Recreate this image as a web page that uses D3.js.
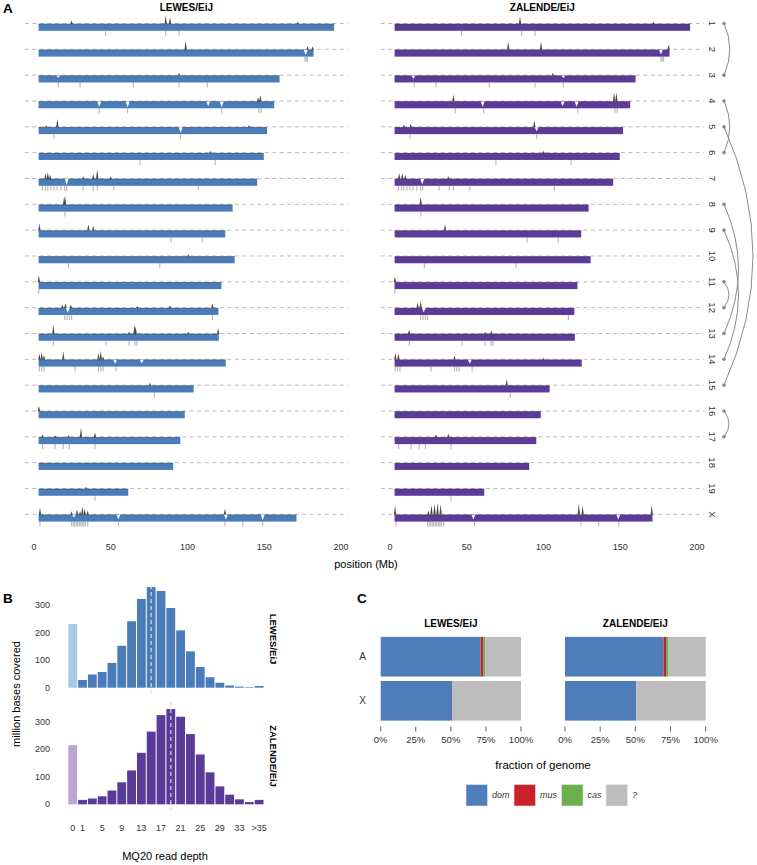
<!DOCTYPE html>
<html lang="en">
<head>
<meta charset="utf-8">
<title>Ancestry and coverage</title>
<script src="https://d3js.org/d3.v7.min.js"></script>
<style>
  body { margin: 0; background: #fff; }
  svg { font-family: "Liberation Sans", Arial, Helvetica, sans-serif; }
</style>
</head>
<body>
<svg id="fig" width="757" height="865"></svg>
<script>
// ---- data: panel A ----
var chroms = ["1","2","3","4","5","6","7","8","9","10","11","12","13","14","15","16","17","18","19","X"];
var chromLen = [195.5, 182.1, 160.0, 156.5, 151.8, 149.7, 145.4, 129.4, 124.6, 130.7, 122.1, 120.1, 120.4, 124.9, 104.0, 98.2, 95.3, 90.7, 61.4, 171.0];
var chromStart = 3;
var strains = ["LEWES/EiJ", "ZALENDE/EiJ"];
var posTicks = [0, 50, 100, 150, 200];

// [chrom, position (Mb), relative coverage]  (>1 spike, <1 dip)
var lewesPeaks = [
  ["1",24.5,1.5],["1",85.8,2.2],["1",88.6,2.0],["1",171.8,1.3],
  ["2",98.8,2.2],["2",177,0.2],["2",178.2,1.5],["2",181.5,1.5],
  ["3",94.5,1.4],["3",15.8,0.7],
  ["4",42.5,0.2],["4",61,0.1],["4",113.5,0.3],["4",122.3,0.1],["4",146,1.6],["4",147.5,1.9],
  ["5",8,1.3],["5",15.2,2.2],["5",95.5,0.2],["5",140,1.3],
  ["6",115,1.3],
  ["7",7.5,1.8],["7",9,2.0],["7",10.5,1.6],["7",21.3,0.1],["7",32,1.4],["7",38.6,1.7],["7",41.2,2.4],["7",50,1.3],
  ["8",19.6,2.1],["8",20.2,2.3],
  ["9",3.5,2.0],["9",35.4,1.9],["9",38.6,1.7],
  ["10",100.5,1.3],
  ["11",3.2,2.0],
  ["12",18.5,1.5],["12",20.5,1.7],["12",22,0.3],["12",24,1.5],["12",67.3,1.3],["12",88.6,1.4],["12",116.2,1.7],
  ["13",12.6,2.3],["13",62,1.3],["13",65.5,2.3],["13",66.2,2.1],["13",100.5,1.3],["13",120,1.8],
  ["14",3.5,1.9],["14",5,2.1],["14",6.5,1.7],["14",19.1,2.2],["14",42,2.0],["14",43.5,2.3],["14",45,1.5],["14",52.8,0.4],["14",70.2,0.5],
  ["15",75.6,1.4],
  ["16",3.2,1.8],
  ["17",5.6,1.4],["17",13.7,1.3],["17",22.4,1.3],["17",30.6,2.4],["17",39.7,1.7],
  ["19",33.9,1.3],
  ["X",3.9,2.0],["X",24.5,1.5],["X",26,0.6],["X",28,1.8],["X",30,1.5],["X",31.5,2.2],["X",33,1.9],["X",35,1.6],
  ["X",55,0.3],["X",124.4,1.9],["X",125,0.3],["X",149,0.2]
];
var zalendePeaks = [
  ["1",84.7,2.1],["1",171.6,1.3],
  ["2",77,2.2],["2",98.4,2.2],["2",176.5,0.3],["2",181.5,1.8],
  ["3",15.2,0.5],["3",106,1.4],["3",112.9,0.6],
  ["4",41.3,2.0],["4",60.4,0.2],["4",112.5,0.3],["4",121.6,0.2],["4",146,2.3],["4",147.5,2.3],
  ["5",9,1.4],["5",13.5,1.5],["5",94,2.0],["5",95.5,0.4],
  ["6",100,1.3],
  ["7",6,1.8],["7",8,1.9],["7",10,1.6],["7",21,0.2],["7",38,1.4],
  ["8",20,2.2],
  ["9",35.8,1.9],
  ["11",3.2,1.8],
  ["12",18,1.8],["12",20,2.0],["12",22,0.4],
  ["13",12.4,1.6],["13",62,1.3],["13",66,1.5],
  ["14",3.5,2.0],["14",5.5,1.9],["14",42,1.6],["14",52,0.4],["14",100,1.3],
  ["15",76,1.9],
  ["17",30,1.4],["17",38,1.5],
  ["X",3.3,2.3],["X",25,1.6],["X",27,2.4],["X",29,2.6],["X",31,2.7],["X",33,2.5],["X",54.3,0.3],
  ["X",123,2.6],["X",125.5,2.3],["X",148.7,0.3],["X",170.5,2.4]
];
// low-coverage sites shown under the tracks: [chrom, position (Mb)]
var gapSites = [
  ["1",46.7],["1",85.8],["1",94.5],
  ["2",176.5],["2",177.3],["2",178.1],
  ["3",15.8],["3",30],["3",64.7],["3",94.5],["3",112.9],
  ["4",42.5],["4",61],["4",122.3],["4",146.5],["4",148],
  ["5",13],["5",95.5],
  ["6",69],["6",118],
  ["7",5.5],["7",7.5],["7",9],["7",11],["7",13],["7",15],["7",17.5],["7",20],["7",21.3],["7",32],["7",38.6],["7",41.2],["7",52],["7",107],
  ["8",20.2],
  ["9",89.3],["9",109.6],
  ["10",22.4],["10",82],
  ["11",3.2],
  ["12",20],["12",21.5],["12",23],["12",24.5],["12",116.2],
  ["13",12.6],["13",47],["13",62],["13",65.8],["13",67],
  ["14",3.5],["14",5],["14",6.5],["14",26.7],["14",42],["14",43.5],["14",45],["14",53.5],
  ["15",78.4],
  ["17",5.6],["17",13.7],["17",19],["17",23],["17",39.7],
  ["19",39.7],
  ["X",3.9],["X",24.5],["X",25.5],["X",26.5],["X",27.5],["X",28.5],["X",29.5],["X",30.5],["X",31.5],["X",32.5],["X",33.5],["X",35],
  ["X",55],["X",124.4],["X",136],["X",149]
];
var arcPairs = [["1","3"],["4","6"],["5","15"],["8","13"],["9","14"],["11","12"],["16","17"]];

// ---- data: panel B ----
var depthBins = ["0","1","3","5","7","9","11","13","15","17","19","21","23","25","27","29","31","33","35",">35"];
var depthLabels = ["0","1","","5","","9","","13","","17","","21","","25","","29","","33","",">35"];
var lewesDepth = [231, 28, 48, 57, 90, 152, 241, 322, 365, 351, 289, 208, 132, 75, 38, 18, 8, 4, 2, 6];
var zalendeDepth = [215, 16, 21, 29, 50, 80, 123, 187, 264, 324, 346, 318, 255, 181, 116, 65, 35, 18, 8, 16];
var meanDepth = ["15", "19"];
var depthTicks = [0, 100, 200, 300];

// ---- data: panel C ----
var ancestry = ["dom", "mus", "cas", "?"];
var chromClass = ["A", "X"];
var lewesFrac = { A: [71.2, 1.8, 1.6, 25.4], X: [51.0, 0.15, 0.1, 48.75] };
var zalendeFrac = { A: [70.0, 1.8, 1.8, 26.4], X: [50.5, 0.15, 0.1, 49.25] };
var fracTicks = [0, 25, 50, 75, 100];

// ---- styles ----
var strainCol = ["#4a7cb9", "#5b3a98"];
var strainLight = ["#a9c9e5", "#baa7d3"];
var ancCol = ["#4f7dba", "#c9202a", "#6bb04d", "#bdbdbd"];

var svg = d3.select("#fig");

// panel letters
[["A", 3, 13], ["B", 3, 603], ["C", 357, 603]].forEach(function(p) {
  svg.append("text").attr("x", p[1]).attr("y", p[2]).attr("font-size", 13.5)
    .attr("font-weight", "bold").text(p[0]);
});

// ================= Panel A =================
var rowY = d3.scalePoint().domain(chroms).range([23.5, 514.3]);
var cov = d3.scaleLinear().domain([0, 1]).range([7.3, 0.4]);
var panelX0 = [34, 390];
var peakSets = [lewesPeaks, zalendePeaks];

strains.forEach(function(s, k) {
  var x = d3.scaleLinear().domain([0, 200]).range([panelX0[k], panelX0[k] + 307]);
  var g = svg.append("g");

  g.append("text").attr("x", (x(-6) + x(204.5)) / 2).attr("y", 11)
    .attr("text-anchor", "middle").attr("font-size", 10).attr("font-weight", "bold").text(s);

  // dashed guides
  g.selectAll(".guide").data(chroms).enter().append("line")
    .attr("x1", x(-6)).attr("x2", x(204.5))
    .attr("y1", function(c) { return rowY(c); }).attr("y2", function(c) { return rowY(c); })
    .attr("stroke", "#a8a8a8").attr("stroke-width", 0.8).attr("stroke-dasharray", "4,3.5");

  // gap ticks under the tracks
  g.selectAll(".gap").data(gapSites).enter().append("line")
    .attr("x1", function(d) { return x(d[1]); }).attr("x2", function(d) { return x(d[1]); })
    .attr("y1", function(d) { return rowY(d[0]) + cov(0); })
    .attr("y2", function(d) { return rowY(d[0]) + cov(0) + 5; })
    .attr("stroke", "#b5b5b5").attr("stroke-width", 1.1);

  // chromosome tracks
  g.selectAll(".trk").data(chroms).enter().append("rect")
    .attr("x", x(chromStart))
    .attr("width", function(c, i) { return x(chromLen[i]) - x(chromStart); })
    .attr("y", function(c) { return rowY(c) + cov(1); })
    .attr("height", cov(0) - cov(1))
    .attr("fill", strainCol[k]);

  // coverage fringe along the top
  g.selectAll(".fr").data(chroms).enter().append("line")
    .attr("x1", x(chromStart))
    .attr("x2", function(c, i) { return x(chromLen[i]); })
    .attr("y1", function(c) { return rowY(c) + cov(1) + 0.2; })
    .attr("y2", function(c) { return rowY(c) + cov(1) + 0.2; })
    .attr("stroke", "#3d3d3d").attr("stroke-opacity", 0.45).attr("stroke-width", 1);

  // spikes and dips
  g.selectAll(".pk").data(peakSets[k]).enter().append("path")
    .attr("d", function(d) {
      var px = x(d[1]), y0 = rowY(d[0]) + cov(1), y1 = rowY(d[0]) + cov(d[2]);
      var w = d[2] > 1 ? 1.2 : 1.9;
      return "M" + (px - w) + "," + y0 + "L" + px + "," + y1 + "L" + (px + w) + "," + y0 + "Z";
    })
    .attr("fill", function(d) { return d[2] > 1 ? "#4a4a4a" : "#ffffff"; });

  // x axis labels
  g.selectAll(".xt").data(posTicks).enter().append("text")
    .attr("x", function(d) { return x(d); }).attr("y", 549.5)
    .attr("text-anchor", "middle").attr("font-size", 9).attr("fill", "#333").text(function(d) { return d; });
});

svg.append("text").attr("x", 366).attr("y", 568).attr("text-anchor", "middle")
  .attr("font-size", 11).text("position (Mb)");

// chromosome labels, dots and arcs
var labX = 712, dotX = 724;
svg.selectAll(".cl").data(chroms).enter().append("text")
  .attr("transform", function(c) { return "translate(" + labX + "," + rowY(c) + ") rotate(90)"; })
  .attr("text-anchor", "middle").attr("dy", "0.35em").attr("font-size", 9.5).attr("fill", "#333")
  .text(function(c) { return c; });

svg.selectAll(".arc").data(arcPairs).enter().append("path")
  .attr("d", function(p) {
    var ya = rowY(p[0]), yb = rowY(p[1]);
    var span = chroms.indexOf(p[1]) - chroms.indexOf(p[0]);
    var b = Math.max(5, 2.9 * span);
    return "M" + dotX + "," + ya + "Q" + (dotX + 2 * b) + "," + ((ya + yb) / 2) + " " + dotX + "," + yb;
  })
  .attr("fill", "none").attr("stroke", "#8a8a8a").attr("stroke-width", 1);

var arcEnds = [];
arcPairs.forEach(function(p) { arcEnds.push(p[0], p[1]); });
svg.selectAll(".dot").data(arcEnds).enter().append("circle")
  .attr("cx", dotX).attr("cy", function(c) { return rowY(c); }).attr("r", 1.8).attr("fill", "#888");

// ================= Panel B =================
var bx = d3.scaleBand().domain(depthBins).range([67.8, 264]).paddingInner(0.1).paddingOuter(0.05);
var histRows = [
  { name: strains[0], vals: lewesDepth, y: d3.scaleLinear().domain([0, 300]).range([687.7, 605]), top: 585, bot: 693 },
  { name: strains[1], vals: zalendeDepth, y: d3.scaleLinear().domain([0, 300]).range([804.3, 721.7]), top: 702, bot: 810 }
];

histRows.forEach(function(h, k) {
  var g = svg.append("g");
  g.selectAll(".yt").data(depthTicks).enter().append("text")
    .attr("x", 50).attr("y", function(d) { return h.y(d); }).attr("dy", "0.35em")
    .attr("text-anchor", "end").attr("font-size", 9).attr("fill", "#333").text(function(d) { return d; });

  g.selectAll(".bar").data(h.vals).enter().append("rect")
    .attr("x", function(d, i) { return bx(depthBins[i]); })
    .attr("width", bx.bandwidth())
    .attr("y", function(d) { return h.y(d); })
    .attr("height", function(d) { return h.y(0) - h.y(d); })
    .attr("fill", function(d, i) { return i === 0 ? strainLight[k] : strainCol[k]; });

  var mx = bx(meanDepth[k]) + bx.bandwidth() / 2;
  g.append("line").attr("x1", mx).attr("x2", mx).attr("y1", h.top).attr("y2", h.bot)
    .attr("stroke", "#dcdcdc").attr("stroke-width", 1.2).attr("stroke-dasharray", "4,3");

  g.append("text")
    .attr("transform", "translate(273," + ((h.top + h.bot) / 2) + ") rotate(90)")
    .attr("text-anchor", "middle").attr("dy", "0.35em").attr("font-size", 9.5).attr("font-weight", "bold")
    .text(h.name);
});

svg.selectAll(".xl").data(depthLabels).enter().append("text")
  .attr("x", function(d, i) { return bx(depthBins[i]) + bx.bandwidth() / 2; })
  .attr("y", 828.3).attr("dy", "0.35em").attr("text-anchor", "middle")
  .attr("font-size", 9).attr("fill", "#333").text(function(d) { return d; });

svg.append("text").attr("x", 165).attr("y", 860).attr("text-anchor", "middle")
  .attr("font-size", 11).text("MQ20 read depth");

svg.append("text").attr("transform", "translate(16,694) rotate(-90)")
  .attr("text-anchor", "middle").attr("dy", "0.35em").attr("font-size", 11).text("million bases covered");

// ================= Panel C =================
var cy = d3.scaleBand().domain(chromClass).range([636, 721.5]).paddingInner(0.1).paddingOuter(0.02);
var cPanels = [
  { name: strains[0], frac: lewesFrac, x: d3.scaleLinear().domain([0, 100]).range([380.7, 521]) },
  { name: strains[1], frac: zalendeFrac, x: d3.scaleLinear().domain([0, 100]).range([565, 705.7]) }
];

cPanels.forEach(function(p) {
  var g = svg.append("g");
  g.append("text").attr("x", (p.x(0) + p.x(100)) / 2).attr("y", 627)
    .attr("text-anchor", "middle").attr("font-size", 10).attr("font-weight", "bold").text(p.name);

  chromClass.forEach(function(c) {
    var segs = [], acc = 0;
    p.frac[c].forEach(function(v, i) { segs.push({ a: acc, b: acc + v, i: i }); acc += v; });
    g.selectAll(".seg" + c).data(segs).enter().append("rect")
      .attr("x", function(d) { return p.x(d.a); })
      .attr("width", function(d) { return p.x(d.b) - p.x(d.a); })
      .attr("y", cy(c)).attr("height", cy.bandwidth())
      .attr("fill", function(d) { return ancCol[d.i]; });
  });

  g.selectAll(".tk").data(fracTicks).enter().append("line")
    .attr("x1", function(d) { return p.x(d); }).attr("x2", function(d) { return p.x(d); })
    .attr("y1", 726.5).attr("y2", 731.5).attr("stroke", "#333").attr("stroke-width", 0.8);
  g.selectAll(".tl").data(fracTicks).enter().append("text")
    .attr("x", function(d) { return p.x(d); }).attr("y", 739.5).attr("dy", "0.35em")
    .attr("text-anchor", "middle").attr("font-size", 9.5).attr("fill", "#333")
    .text(function(d) { return d + "%"; });
});

svg.selectAll(".rl").data(chromClass).enter().append("text")
  .attr("x", 362.7).attr("y", function(c) { return cy(c) + cy.bandwidth() / 2; }).attr("dy", "0.35em")
  .attr("text-anchor", "middle").attr("font-size", 10).attr("fill", "#333").text(function(c) { return c; });

svg.append("text").attr("x", 543).attr("y", 769).attr("text-anchor", "middle")
  .attr("font-size", 11.5).text("fraction of genome");

// legend
var lx = 466;
ancestry.forEach(function(a, i) {
  svg.append("rect").attr("x", lx).attr("y", 784.5).attr("width", 21.5).attr("height", 21.5)
    .attr("fill", ancCol[i]).attr("stroke", "#e8e8e8").attr("stroke-width", 0.6);
  var t = svg.append("text").attr("x", lx + 26).attr("y", 795.2).attr("dy", "0.35em")
    .attr("font-size", 9).attr("font-style", "italic").attr("fill", "#333").text(a);
  lx = lx + 26 + t.node().getComputedTextLength() + 4.5;
});
</script>
</body>
</html>
